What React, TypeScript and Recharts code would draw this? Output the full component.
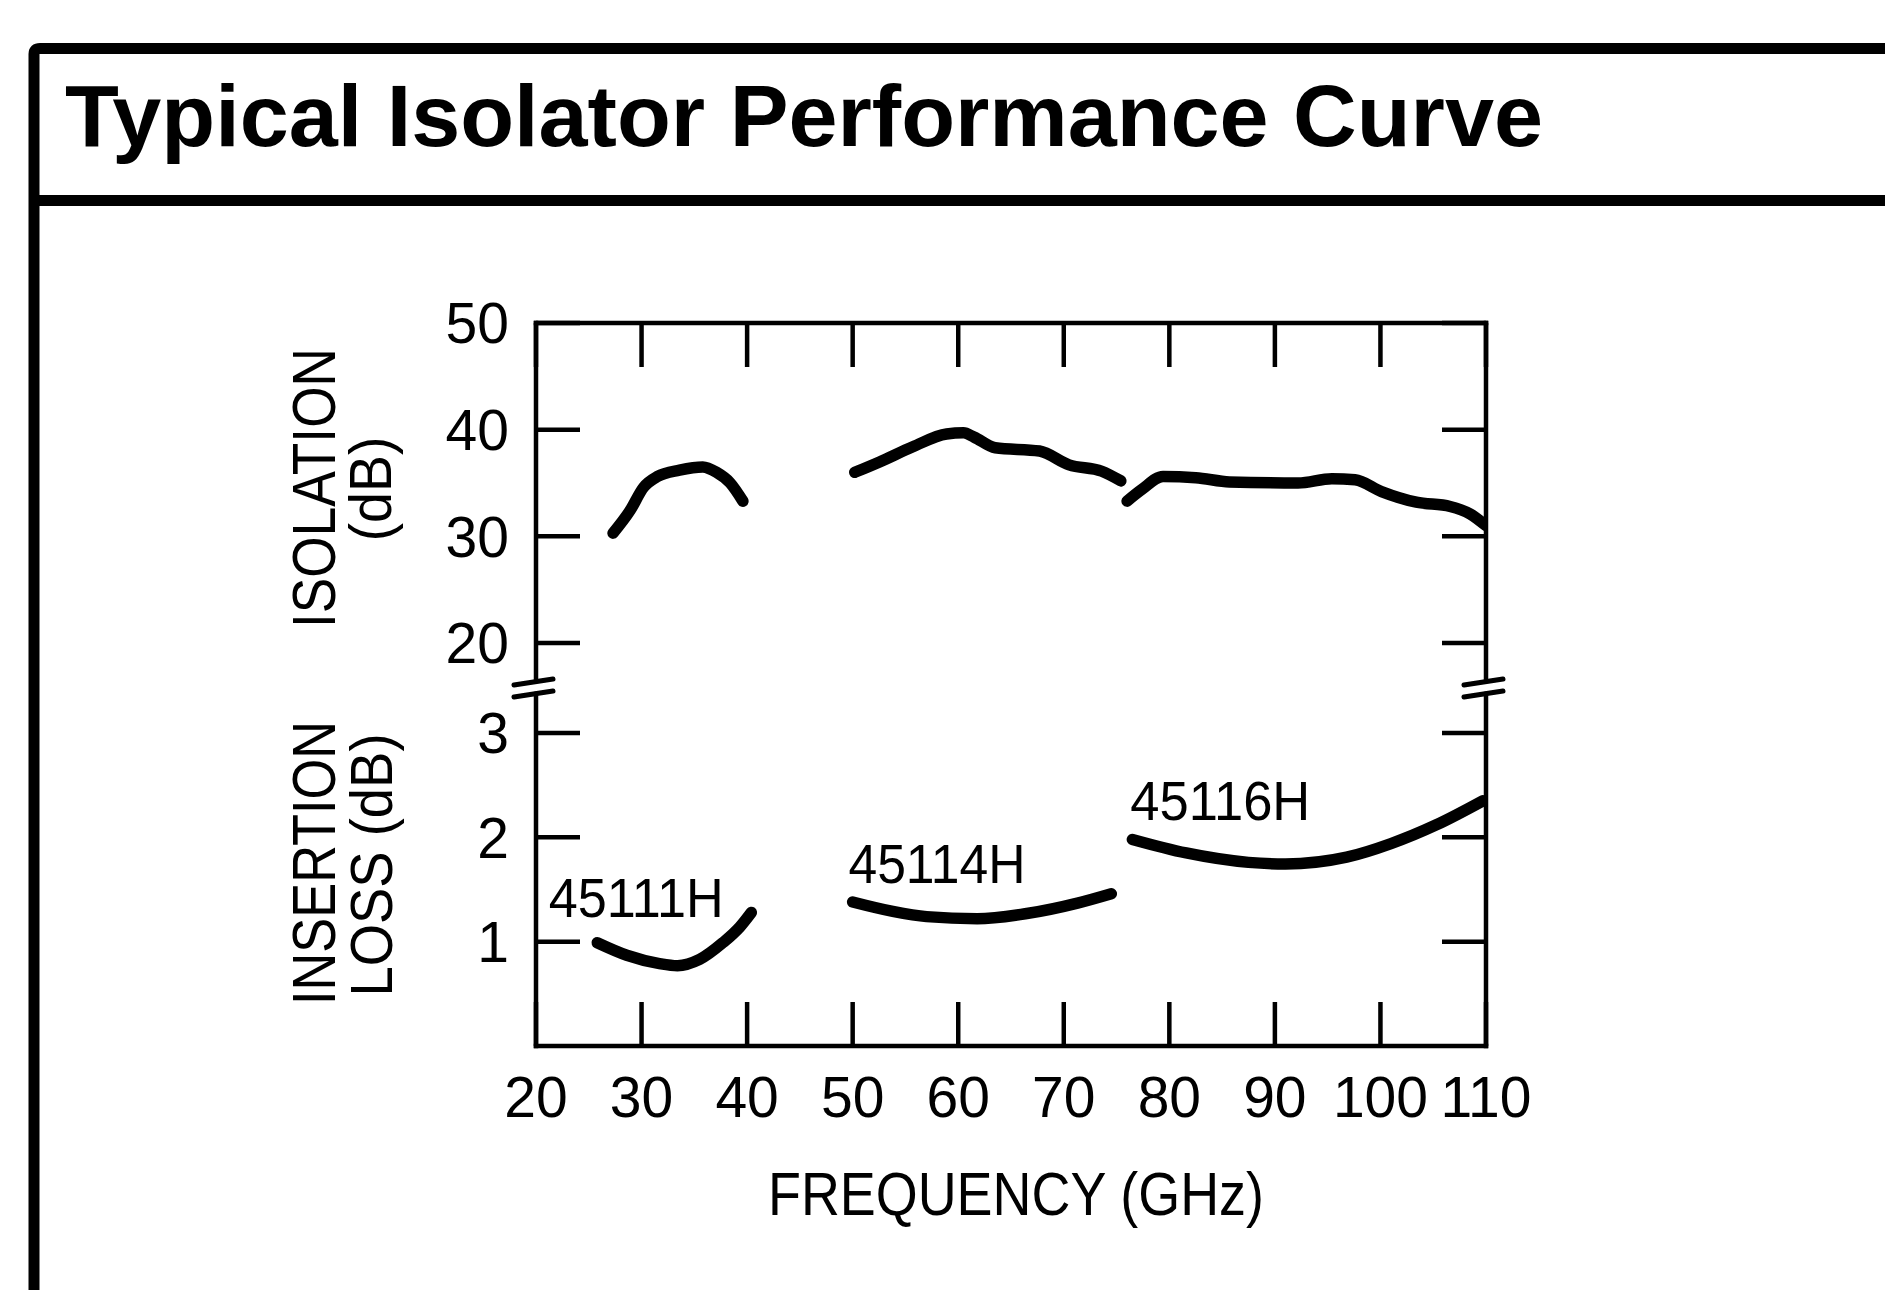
import React from 'react';
import { LineChart, Line, XAxis, YAxis, ReferenceDot } from 'recharts';

// ---------- data ----------
const FREQ_TICKS = [20, 30, 40, 50, 60, 70, 80, 90, 100, 110];
const ISO_TICKS = [20, 30, 40, 50];
const IL_TICKS = [1, 2, 3];

// Isolation (dB) vs frequency (GHz)
const iso45111H = [
  { f: 27.3, v: 30.3 }, { f: 28.9, v: 32.4 }, { f: 30.2, v: 34.6 }, { f: 31.5, v: 35.6 },
  { f: 33.6, v: 36.2 }, { f: 35.8, v: 36.5 }, { f: 37.1, v: 36.0 }, { f: 38.4, v: 35.0 },
  { f: 39.6, v: 33.3 },
];
const iso45114H = [
  { f: 50.2, v: 36.0 }, { f: 52.6, v: 37.0 }, { f: 55.7, v: 38.4 }, { f: 58.9, v: 39.6 },
  { f: 60.5, v: 39.7 }, { f: 61.5, v: 39.3 }, { f: 63.5, v: 38.3 }, { f: 67.7, v: 38.0 },
  { f: 70.5, v: 36.7 }, { f: 73.6, v: 36.1 }, { f: 75.4, v: 35.2 },
];
const iso45116H = [
  { f: 76.0, v: 33.3 }, { f: 77.4, v: 34.4 }, { f: 79.4, v: 35.6 }, { f: 82.5, v: 35.5 },
  { f: 85.7, v: 35.1 }, { f: 92.2, v: 35.0 }, { f: 95.4, v: 35.4 }, { f: 97.6, v: 35.3 },
  { f: 100.1, v: 34.2 }, { f: 103.4, v: 33.2 }, { f: 106.6, v: 32.8 }, { f: 108.5, v: 32.1 },
  { f: 110.0, v: 31.0 },
];

// Insertion loss (dB) vs frequency (GHz)
const il45111H = [
  { f: 25.8, v: 0.99 }, { f: 28.6, v: 0.87 }, { f: 31.7, v: 0.79 }, { f: 33.4, v: 0.77 },
  { f: 35.5, v: 0.83 }, { f: 37.7, v: 0.99 }, { f: 39.3, v: 1.14 }, { f: 40.4, v: 1.28 },
];
const il45114H = [
  { f: 50.0, v: 1.38 }, { f: 53.8, v: 1.29 }, { f: 57.0, v: 1.24 }, { f: 61.8, v: 1.22 },
  { f: 66.5, v: 1.27 }, { f: 71.3, v: 1.37 }, { f: 74.5, v: 1.46 },
];
const il45116H = [
  { f: 76.5, v: 1.98 }, { f: 81.6, v: 1.85 }, { f: 87.5, v: 1.76 }, { f: 91.0, v: 1.745 },
  { f: 96.8, v: 1.81 }, { f: 101.0, v: 1.94 }, { f: 105.3, v: 2.12 }, { f: 109.7, v: 2.35 },
];

const LABEL_NAMES = ['45111H', '45114H', '45116H'];
const LABEL_FREQ = [21.2, 49.6, 76.3];
const LABEL_IL = [1.24, 1.56, 2.17];

// ---------- broken-axis mapping ----------
// virtual unit: insertion loss 0..3 maps directly; isolation 20..50 sits above a break
const ISO_OFFSET = 3.863; // virtual position of isolation 20 dB
const ISO_SCALE = 0.10223; // virtual units per isolation dB
const TOP_V = 6.93;
const BREAK_V = 3.431;
const toV = (iso: number) => ISO_OFFSET + (iso - 20) * ISO_SCALE;
const fromV = (v: number) => (v - ISO_OFFSET) / ISO_SCALE + 20;
const Y_TICKS = [...IL_TICKS, ...ISO_TICKS.map(toV)];

const isoSeries = [iso45111H, iso45114H, iso45116H].map((s) => s.map((p) => ({ f: p.f, y: toV(p.v) })));
const ilSeries = [il45111H, il45114H, il45116H].map((s) => s.map((p) => ({ f: p.f, y: p.v })));

const FONT = '"Liberation Sans", Arial, Helvetica, sans-serif';
const AXIS = { stroke: '#000', strokeWidth: 4.5, strokeLinecap: 'square' as const };
const TICKLINE = { stroke: '#000', strokeWidth: 4.5 };
const TICKFONT = { fontSize: 57, fill: '#000', fontFamily: FONT };
const LABEL_LEN = [175, 177, 180];

const BreakMark = (props: any) => {
  const { cx, cy } = props;
  if (cx == null || cy == null) return <g />;
  return (
    <g>
      <polygon points={`${cx - 9},${cy - 4} ${cx + 9},${cy - 7} ${cx + 9},${cy + 2} ${cx - 9},${cy + 5}`} fill="#fff" />
      <line x1={cx - 22} y1={cy - 3} x2={cx + 17} y2={cy - 9} stroke="#000" strokeWidth={5} strokeLinecap="round" />
      <line x1={cx - 22} y1={cy + 9} x2={cx + 17} y2={cy + 3} stroke="#000" strokeWidth={5} strokeLinecap="round" />
    </g>
  );
};

const makeLabel = (i: number) => (props: any) => {
  const { cx, cy } = props;
  if (cx == null || cy == null) return <g />;
  return (
    <text x={cx} y={cy} fontSize={56} fontFamily={FONT} fill="#000" textLength={LABEL_LEN[i]} lengthAdjust="spacingAndGlyphs">
      {LABEL_NAMES[i]}
    </text>
  );
};

export default function App() {
  return (
    <div style={{ position: 'fixed', left: 0, top: 0, width: 1885, height: 1290, overflow: 'hidden', background: '#fff' }}>
      <svg width={1885} height={1290} style={{ position: 'absolute', left: 0, top: 0 }}>
        <path d="M34,1290 L34,54 Q34,48.5 40,48.5 L1885,48.5" stroke="#000" strokeWidth={11} fill="none" />
        <line x1={29} y1={200.5} x2={1885} y2={200.5} stroke="#000" strokeWidth={11} />
        <text x={65} y={146} fontSize={88} fontWeight="bold" fontFamily={FONT} fill="#000" textLength={1478} lengthAdjust="spacingAndGlyphs">
          Typical Isolator Performance Curve
        </text>
        <g fontFamily={FONT} fill="#000" textAnchor="middle">
          <text transform="translate(335,488) rotate(-90)" fontSize={62} textLength={280} lengthAdjust="spacingAndGlyphs">ISOLATION</text>
          <text transform="translate(391,489) rotate(-90)" fontSize={60} textLength={105} lengthAdjust="spacingAndGlyphs">(dB)</text>
          <text transform="translate(335,863) rotate(-90)" fontSize={62} textLength={284} lengthAdjust="spacingAndGlyphs">INSERTION</text>
          <text transform="translate(392,865) rotate(-90)" fontSize={60} textLength={263} lengthAdjust="spacingAndGlyphs">LOSS (dB)</text>
          <text x={1016} y={1215} fontSize={62} textLength={496} lengthAdjust="spacingAndGlyphs">FREQUENCY (GHz)</text>
        </g>
      </svg>
      <div style={{ position: 'absolute', left: 0, top: 0 }}>
        <LineChart width={1885} height={1290} margin={{ top: 313, right: 389, bottom: 164, left: 456 }}>
          <XAxis
            xAxisId="b"
            type="number"
            dataKey="f"
            domain={[20, 110]}
            ticks={FREQ_TICKS}
            interval={0}
            allowDataOverflow
            height={80}
            tickSize={-44}
            tickMargin={75}
            tick={TICKFONT}
            axisLine={AXIS}
            tickLine={TICKLINE}
          />
          <XAxis
            xAxisId="t"
            orientation="top"
            type="number"
            dataKey="f"
            domain={[20, 110]}
            ticks={FREQ_TICKS}
            interval={0}
            allowDataOverflow
            height={10}
            tickSize={-44}
            tickFormatter={() => ''}
            axisLine={AXIS}
            tickLine={TICKLINE}
          />
          <YAxis
            yAxisId="l"
            type="number"
            domain={[0, TOP_V]}
            ticks={Y_TICKS}
            interval={0}
            allowDataOverflow
            width={80}
            tickSize={-44}
            tickMargin={71}
            tick={TICKFONT}
            tickFormatter={(v: number) => (v < BREAK_V ? String(v) : String(Math.round(fromV(v))))}
            axisLine={AXIS}
            tickLine={TICKLINE}
          />
          <YAxis
            yAxisId="r"
            orientation="right"
            type="number"
            domain={[0, TOP_V]}
            ticks={Y_TICKS}
            interval={0}
            allowDataOverflow
            width={10}
            tickSize={-44}
            tickFormatter={() => ''}
            axisLine={AXIS}
            tickLine={TICKLINE}
          />
          {isoSeries.map((d, i) => (
            <Line key={'iso' + i} xAxisId="b" yAxisId="l" data={d} dataKey="y" type="monotone" stroke="#000" strokeWidth={11.5} strokeLinecap="round" strokeLinejoin="round" dot={false} activeDot={false} isAnimationActive={false} />
          ))}
          {ilSeries.map((d, i) => (
            <Line key={'il' + i} xAxisId="b" yAxisId="l" data={d} dataKey="y" type="monotone" stroke="#000" strokeWidth={11.5} strokeLinecap="round" strokeLinejoin="round" dot={false} activeDot={false} isAnimationActive={false} />
          ))}
          <ReferenceDot xAxisId="b" yAxisId="l" x={20} y={BREAK_V} ifOverflow="visible" shape={BreakMark} />
          <ReferenceDot xAxisId="b" yAxisId="l" x={110} y={BREAK_V} ifOverflow="visible" shape={BreakMark} />
          {LABEL_NAMES.map((n, i) => (
            <ReferenceDot key={n} xAxisId="b" yAxisId="l" x={LABEL_FREQ[i]} y={LABEL_IL[i]} ifOverflow="visible" shape={makeLabel(i)} />
          ))}
        </LineChart>
      </div>
    </div>
  );
}
